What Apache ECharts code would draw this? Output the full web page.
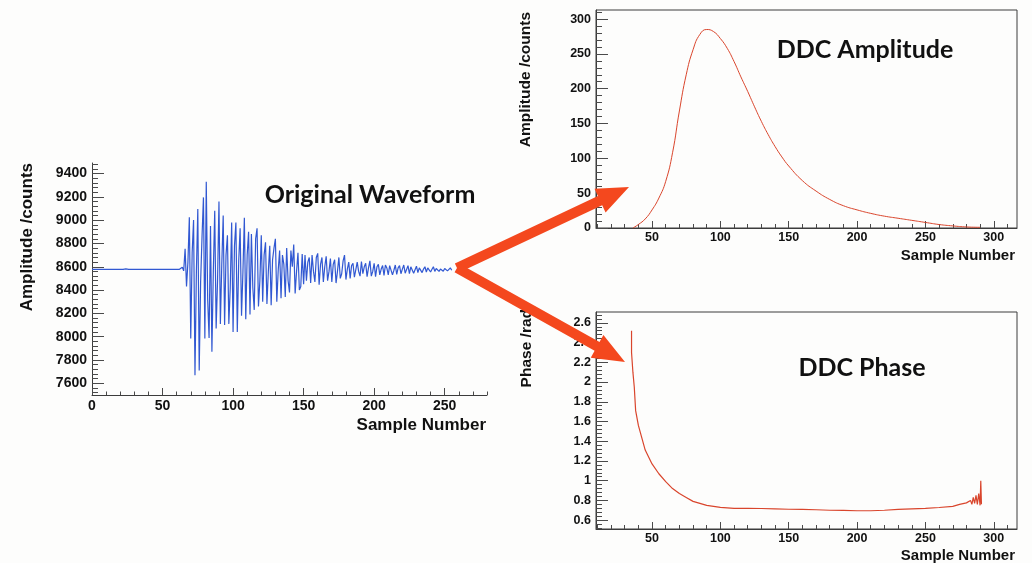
<!DOCTYPE html>
<html>
<head>
    <meta charset="utf-8">
    <script src="https://cdn.jsdelivr.net/npm/echarts@6/dist/echarts.min.js"></script>
    <style>
        html, body { margin: 0; padding: 0; background: #fdfdfc; }
    </style>
</head>
<body>
<div id="main" style="width: 1032px;height:563px;"></div>
<script type="text/javascript">
    // raw ADC samples, index = sample number 0..255
    var waveY = [
        8578, 8578, 8578, 8578, 8578, 8578, 8578, 8578, 8578, 8578,
        8578, 8578, 8578, 8578, 8578, 8578, 8578, 8583, 8578, 8578,
        8578, 8578, 8578, 8578, 8582, 8578, 8578, 8578, 8578, 8578,
        8578, 8578, 8578, 8578, 8578, 8578, 8578, 8578, 8578, 8578,
        8578, 8578, 8578, 8578, 8578, 8578, 8578, 8578, 8578, 8578,
        8578, 8578, 8578, 8578, 8578, 8578, 8578, 8578, 8578, 8578,
        8578, 8578, 8578, 8580, 8596, 8565, 8755, 8430, 8640, 9025,
        7985, 8720, 9000, 7670, 8560, 9095, 7710, 8470, 8860, 9195,
        7985, 9330, 8320, 7990, 8950, 7870, 8560, 9080, 8070, 8480,
        9160, 8110, 8620, 9040, 8100, 8700, 8870, 8110, 8420, 8980,
        8040, 8780, 8980, 8040, 8650, 8930, 8180, 8560, 9020, 8150,
        8700, 8900, 8190, 8880, 8420, 8230, 8840, 8930, 8260, 8480,
        8870, 8300, 8700, 8810, 8280, 8560, 8780, 8270, 8660, 8760,
        8840, 8300, 8570, 8740, 8330, 8700, 8620, 8340, 8760, 8480,
        8380, 8740, 8600, 8790, 8370, 8560, 8720, 8400, 8430, 8710,
        8450, 8700, 8480, 8640, 8680, 8460, 8700, 8560, 8470, 8680,
        8715, 8445, 8620, 8680, 8470, 8600, 8690, 8480, 8560, 8670,
        8470, 8620, 8660, 8460, 8560, 8680, 8500, 8540, 8650, 8700,
        8490, 8580, 8640, 8500, 8610, 8630, 8510, 8500, 8640, 8560,
        8520, 8645, 8540, 8600, 8630, 8515, 8590, 8650, 8520, 8560,
        8630, 8515, 8600, 8620, 8530, 8580, 8610, 8525, 8615, 8590,
        8530, 8610, 8620, 8530, 8570, 8615, 8535, 8590, 8610, 8540,
        8580, 8615, 8545, 8560, 8610, 8540, 8600, 8605, 8545, 8575,
        8605, 8550, 8590, 8600, 8550, 8580, 8600, 8555, 8590, 8598,
        8555, 8578, 8600, 8560, 8585, 8595, 8560, 8580, 8596, 8562,
        8585, 8592, 8565, 8582, 8590, 8570
    ];

    // DDC amplitude
    var ampX = [36, 40, 45, 50, 55, 60, 65, 70, 75, 80, 85, 90, 95, 100, 105, 110, 115, 120, 125,
        130, 135, 140, 145, 150, 160, 170, 180, 190, 200, 210, 220, 230, 240, 250, 260, 270, 280, 290];
    var ampY = [0, 5, 13, 26, 43, 67, 108, 168, 220, 256, 278, 285, 282, 272, 258, 239, 217, 196, 174,
        153, 134, 117, 102, 89, 68, 53, 41, 32, 26, 21, 17, 14, 11, 8, 5, 3, 1.5, 1];

    // DDC phase
    var phaseX = [35, 35, 36, 37, 38, 40, 45, 50, 55, 60, 65, 70, 75, 80, 85, 90, 95, 100,
        110, 120, 130, 140, 150, 160, 170, 180, 190, 200, 210, 220, 230, 240, 250, 260, 270,
        275, 280, 283, 284, 285, 286, 287, 288, 289, 290, 290.5, 291];
    var phaseY = [2.52, 2.3, 2.1, 1.95, 1.71, 1.56, 1.31, 1.17, 1.07, 0.99, 0.92, 0.87, 0.83, 0.79, 0.77, 0.75, 0.74, 0.73,
        0.72, 0.72, 0.718, 0.715, 0.71, 0.708, 0.705, 0.70, 0.698, 0.695, 0.695, 0.70, 0.708, 0.715, 0.72, 0.728, 0.74,
        0.76, 0.775, 0.80, 0.76, 0.83, 0.77, 0.85, 0.76, 0.87, 0.75, 1.0, 0.76];

    // tick labels
    var waveXLabels = [0, 50, 100, 150, 200, 250];
    var waveYLabels = [7600, 7800, 8000, 8200, 8400, 8600, 8800, 9000, 9200, 9400];
    var ddcXLabels = [50, 100, 150, 200, 250, 300];
    var ampYLabels = [0, 50, 100, 150, 200, 250, 300];
    var phaseYLabels = [0.6, 0.8, 1, 1.2, 1.4, 1.6, 1.8, 2, 2.2, 2.4, 2.6];

    function steps(a, b, d) {
        var out = [];
        for (var v = a; v <= b + 1e-9; v += d) out.push(Math.round(v * 1000) / 1000);
        return out;
    }

    var LABEL_FONT = 'Liberation Sans';
    var TITLE_FONT = 'Lato';

    // a major axis (line, labels, long ticks) plus a bare axis carrying the short ticks
    function axisPair(dim, grid, min, max, labels, majorLen, minorTicks, minorLen, fontSize, margin) {
        var pos = dim === 'x' ? 'bottom' : 'left';
        var major = {
            type: 'value', gridIndex: grid, position: pos, min: min, max: max,
            axisLine: {show: true, onZero: false, lineStyle: {color: '#3c3c3c', width: 1}},
            axisTick: {show: true, inside: true, length: majorLen, customValues: labels, lineStyle: {color: '#4a4a4a'}},
            axisLabel: {
                show: true, customValues: labels, margin: margin, color: '#111',
                fontFamily: LABEL_FONT, fontWeight: 'bold', fontSize: fontSize,
                formatter: function (v) { return String(v); }
            },
            splitLine: {show: false}
        };
        var minor = {
            type: 'value', gridIndex: grid, position: pos, min: min, max: max,
            axisLine: {show: false, onZero: false},
            axisTick: {show: true, inside: true, length: minorLen, customValues: minorTicks, lineStyle: {color: '#4a4a4a'}},
            axisLabel: {show: false},
            splitLine: {show: false}
        };
        return [major, minor];
    }

    var xAxes = [].concat(
        axisPair('x', 0, 0, 280, waveXLabels, 7, steps(10, 280, 10), 3.5, 14, 4),
        axisPair('x', 1, 9, 317, ddcXLabels, 7, steps(10, 310, 10), 4, 12.5, 3),
        axisPair('x', 2, 9, 317, ddcXLabels, 7, steps(10, 310, 10), 4, 12.5, 3)
    );
    var yAxes = [].concat(
        axisPair('y', 0, 7500, 9490, waveYLabels, 12, steps(7520, 9480, 40), 6, 14, 5),
        axisPair('y', 1, 0, 313, ampYLabels, 12, steps(0, 310, 10), 6, 12.5, 5),
        axisPair('y', 2, 0.51, 2.71, phaseYLabels, 12, steps(0.52, 2.68, 0.04), 6, 12.5, 5)
    );

    function pairs(xs, ys) {
        return ys.map(function (y, i) { return [xs[i], y]; });
    }

    function arrow(t, p, w, L, H) {
        var dx = p[0] - t[0], dy = p[1] - t[1], len = Math.hypot(dx, dy);
        var ux = dx / len, uy = dy / len, nx = -uy, ny = ux;
        var bx = p[0] - ux * L, by = p[1] - uy * L;
        return [
            [t[0] + nx * w, t[1] + ny * w], [bx + nx * w, by + ny * w], [bx + nx * H, by + ny * H],
            p,
            [bx - nx * H, by - ny * H], [bx - nx * w, by - ny * w], [t[0] - nx * w, t[1] - ny * w]
        ];
    }

    function label(text, x, y, size, align, rot, family) {
        return {
            type: 'text', x: x, y: y, rotation: rot || 0, z: 50,
            style: {
                text: text, fill: '#111', fontFamily: family || LABEL_FONT, fontWeight: 'bold', fontSize: size,
                align: align, textAlign: align, verticalAlign: 'middle', textVerticalAlign: 'middle'
            }
        };
    }

    var ARROW_COLOR = '#f4481e';

    var myChart = echarts.init(document.getElementById('main'));

    var option = {
        backgroundColor: '#fdfdfc',
        animation: false,
        grid: [
            {left: 92, top: 163, width: 395, height: 232, show: false},
            {left: 596, top: 10, width: 421, height: 218, show: true, borderColor: '#3c3c3c', borderWidth: 1, backgroundColor: 'transparent'},
            {left: 596, top: 312, width: 421, height: 217, show: true, borderColor: '#3c3c3c', borderWidth: 1, backgroundColor: 'transparent'}
        ],
        xAxis: xAxes,
        yAxis: yAxes,
        series: [
            {
                type: 'line', xAxisIndex: 0, yAxisIndex: 0, showSymbol: false,
                data: waveY.map(function (v, i) { return [i, v]; }),
                lineStyle: {color: '#3158d2', width: 1.2}
            },
            {
                type: 'line', xAxisIndex: 2, yAxisIndex: 2, showSymbol: false, smooth: 0.5,
                data: pairs(ampX, ampY),
                lineStyle: {color: '#d9452c', width: 1}
            },
            {
                type: 'line', xAxisIndex: 4, yAxisIndex: 4, showSymbol: false,
                data: pairs(phaseX, phaseY),
                lineStyle: {color: '#d9452c', width: 1.2}
            }
        ],
        graphic: [
            label('Original Waveform', 370, 195, 25, 'center', 0, TITLE_FONT),
            label('DDC Amplitude', 865, 50, 25, 'center', 0, TITLE_FONT),
            label('DDC Phase', 862, 368, 25, 'center', 0, TITLE_FONT),
            label('Amplitude /counts', 27, 163, 17, 'right', Math.PI / 2),
            label('Amplitude /counts', 526, 12, 15.5, 'right', Math.PI / 2),
            label('Phase /rad', 527, 309, 15.5, 'right', Math.PI / 2),
            label('Sample Number', 486, 425, 17, 'right'),
            label('Sample Number', 1015, 256, 15, 'right'),
            label('Sample Number', 1015, 556, 15, 'right'),
            {type: 'polygon', z: 100, shape: {points: arrow([457, 268], [629, 187], 5, 32, 13)}, style: {fill: ARROW_COLOR}},
            {type: 'polygon', z: 100, shape: {points: arrow([457, 268], [625, 362], 5, 32, 13)}, style: {fill: ARROW_COLOR}}
        ]
    };

    myChart.setOption(option);
</script>
</body>
</html>
